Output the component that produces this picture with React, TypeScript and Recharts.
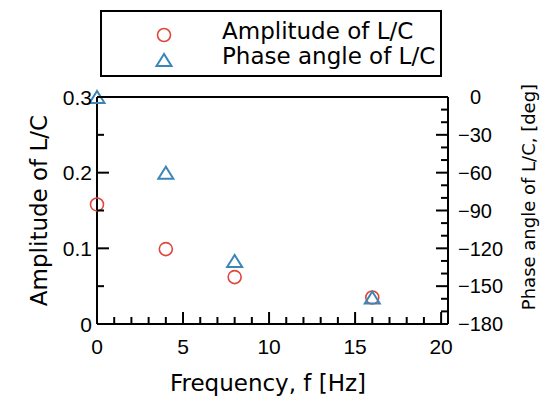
import React from "react";
import {
  ScatterChart,
  Scatter,
  XAxis,
  YAxis,
  ReferenceLine,
  Legend,
} from "recharts";

const frequency = [0, 4, 8, 16];
const amplitude = [0.158, 0.099, 0.062, 0.035];
const phaseAngle = [0, -60, -130, -159];

const seriesNames = ["Amplitude of L/C", "Phase angle of L/C"];

// ticks: every entry gets a tick mark, only the labelled ones get text
const freqTicks = [0, 1, 2, 3, 4, 5, 6, 7, 8, 9, 10, 11, 12, 13, 14, 15, 16, 17, 18, 19, 20];
const freqLabels = [0, 5, 10, 15, 20];
const ampTicks = [0, 0.05, 0.1, 0.15, 0.2, 0.25, 0.3];
const ampLabels = ["0", "0.1", "0.2", "0.3"];
const phaseTicks = [0, -10, -20, -30, -40, -50, -60, -70, -80, -90, -100, -110, -120, -130, -140, -150, -160, -170, -180];
const phaseLabels = [0, -30, -60, -90, -120, -150, -180];

const RED = "#e0463b";
const BLUE = "#3a86b6";
const TICK_FONT = "'Liberation Sans', Arial, sans-serif";
const TITLE_FONT = "'DejaVu Sans', sans-serif";

const ampData = frequency.map((f, i) => ({ f, amp: amplitude[i] }));
const phaseData = frequency.map((f, i) => ({ f, phase: phaseAngle[i] }));

function CircleMark({ cx, cy }: any) {
  return <circle cx={cx} cy={cy} r={6.5} fill="none" stroke={RED} strokeWidth={1.6} />;
}

function TriangleMark({ cx, cy }: any) {
  const w = 7.5;
  const h = 6;
  return (
    <polygon
      points={`${cx},${cy - h} ${cx - w},${cy + h} ${cx + w},${cy + h}`}
      fill="none"
      stroke={BLUE}
      strokeWidth={2}
    />
  );
}

function FreqTick({ x, y, payload }: any) {
  const major = freqLabels.includes(payload.value);
  return (
    <g>
      <line x1={x} x2={x} y1={y} y2={y - (major ? 12 : 7)} stroke="#000" strokeWidth={2} />
      {major && (
        <text x={x} y={y + 30} textAnchor="middle" fontSize={21} fontFamily={TICK_FONT} fill="#000">
          {payload.value}
        </text>
      )}
    </g>
  );
}

function AmpTick({ x, y, payload }: any) {
  const label = ampLabels.find((l) => Math.abs(Number(l) - payload.value) < 1e-6);
  return (
    <g>
      <line x1={x} x2={x + (label ? 12 : 7)} y1={y} y2={y} stroke="#000" strokeWidth={2} />
      {label && (
        <text x={x - 5} y={y} dy="0.36em" textAnchor="end" fontSize={21} fontFamily={TICK_FONT} fill="#000">
          {label}
        </text>
      )}
    </g>
  );
}

function PhaseTick({ x, y, payload }: any) {
  const v = Number(payload.value);
  const major = phaseLabels.includes(v);
  const txt = v < 0 ? `\u2212${Math.abs(v)}` : `${v}`;
  return (
    <g>
      <line x1={x} x2={x - (major ? 12 : 7)} y1={y} y2={y} stroke="#000" strokeWidth={2} />
      {major && (
        <text
          x={x + (v < 0 ? 10 : 22)}
          y={y}
          dy="0.36em"
          textAnchor="start"
          fontSize={20}
          fontFamily={TICK_FONT}
          fill="#000"
        >
          {txt}
        </text>
      )}
    </g>
  );
}

function LegendBox() {
  return (
    <div
      style={{
        boxSizing: "border-box",
        width: 342,
        height: 67,
        border: "2px solid #000",
        background: "#fff",
        position: "relative",
        fontFamily: TITLE_FONT,
        fontSize: 23,
        color: "#000",
      }}
    >
      <svg width={30} height={60} style={{ position: "absolute", left: 47, top: 3 }}>
        <CircleMark cx={15} cy={20} />
        <TriangleMark cx={15} cy={45} />
      </svg>
      <div style={{ position: "absolute", left: 120, top: 7, lineHeight: "25px", whiteSpace: "nowrap" }}>
        <div>{seriesNames[0]}</div>
        <div>{seriesNames[1]}</div>
      </div>
    </div>
  );
}

export default function App() {
  return (
    <div style={{ position: "absolute", left: 0, top: 0, background: "#fff" }}>
      <ScatterChart width={542} height={403} margin={{ top: 97, right: 0, bottom: 0, left: 0 }}>
        <XAxis
          type="number"
          dataKey="f"
          domain={[0, 20.4]}
          ticks={freqTicks}
          interval={0}
          tickSize={0}
          tickMargin={0}
          tickLine={false}
          tick={<FreqTick />}
          axisLine={{ stroke: "#000", strokeWidth: 2 }}
          height={79}
          label={({ viewBox }: any) => (
            <text
              x={268}
              y={viewBox.y + 59}
              dy="0.36em"
              textAnchor="middle"
              fontSize={23}
              fontFamily={TITLE_FONT}
              fill="#000"
            >
              Frequency, f [Hz]
            </text>
          )}
        />
        <YAxis
          yAxisId="left"
          type="number"
          dataKey="amp"
          domain={[0, 0.3]}
          ticks={ampTicks}
          interval={0}
          tickSize={0}
          tickMargin={0}
          tickLine={false}
          tick={<AmpTick />}
          axisLine={{ stroke: "#000", strokeWidth: 2 }}
          width={97}
          label={({ viewBox }: any) => (
            <text
              x={39}
              y={viewBox.y + viewBox.height / 2}
              dy="0.36em"
              textAnchor="middle"
              transform={`rotate(-90 39 ${viewBox.y + viewBox.height / 2})`}
              fontSize={23}
              fontFamily={TITLE_FONT}
              fill="#000"
            >
              Amplitude of L/C
            </text>
          )}
        />
        <YAxis
          yAxisId="right"
          orientation="right"
          type="number"
          dataKey="phase"
          domain={[-180, 0]}
          ticks={phaseTicks}
          interval={0}
          tickSize={0}
          tickMargin={0}
          tickLine={false}
          tick={<PhaseTick />}
          axisLine={{ stroke: "#000", strokeWidth: 2 }}
          width={94}
          label={({ viewBox }: any) => (
            <text
              x={viewBox.x + 81}
              y={197}
              dy="0.36em"
              textAnchor="middle"
              transform={`rotate(-90 ${viewBox.x + 81} 197)`}
              fontSize={18}
              fontFamily={TITLE_FONT}
              fill="#000"
            >
              Phase angle of L/C, [deg]
            </text>
          )}
        />
        <ReferenceLine yAxisId="left" y={0.3} stroke="#000" strokeWidth={2} />
        <Scatter
          name={seriesNames[0]}
          data={ampData}
          yAxisId="left"
          shape={<CircleMark />}
          isAnimationActive={false}
        />
        <Scatter
          name={seriesNames[1]}
          data={phaseData}
          yAxisId="right"
          shape={<TriangleMark />}
          isAnimationActive={false}
        />
        <Legend
          layout="horizontal"
          verticalAlign="middle"
          align="center"
          content={() => <LegendBox />}
          wrapperStyle={{ position: "absolute", left: 100, top: 10, width: 342, height: 67 }}
        />
      </ScatterChart>
    </div>
  );
}
